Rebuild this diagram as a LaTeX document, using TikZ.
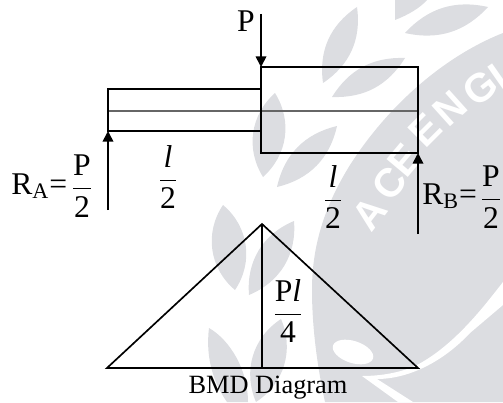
\documentclass[tikz,border=0pt]{standalone}
\usepackage{fontspec}
\setmainfont{Liberation Serif}
\setsansfont{Liberation Sans}
\usetikzlibrary{arrows.meta}
\definecolor{wmgrey}{RGB}{220,221,225}
\newcommand{\ratio}[2]{$\displaystyle\frac{#1}{#2}$}
\tikzset{
	beam/.style={line width=0.95pt,line join=miter},
	load/.style={line width=0.95pt,-{Triangle[width=6pt,length=6pt]}},
	axisline/.style={line width=0.6pt,black!60},
	label/.style={inner sep=0pt,font=\fontsize{18}{20}\selectfont},
	caption/.style={inner sep=0pt,font=\fontsize{15}{17}\selectfont},
	wmark/.style={inner sep=0pt,text=white,font=\fontsize{23}{24}\selectfont\sffamily\bfseries}
}
\begin{document}
\begin{tikzpicture}[x=0.02cm,y=-0.02cm]
	\useasboundingbox (0,0) rectangle (503,402);
	\begin{scope}
	\clip (0,0) rectangle (503,402);
	% leaves
	\foreach \ax/\ay/\bx/\by/\bd in {357/7/323/83/32, 405/58/332/97/30, 488/7/405/33/30, 275/93/263/177/40, 337/126/277/187/32, 223/205/235/290/42, 294/221/249/295/36, 281/319/256/402/40}
		\fill[wmgrey] (\ax,\ay) to[bend right=\bd] (\bx,\by) to[bend right=\bd] (\ax,\ay);
	\fill[wmgrey] (395,20) -- (395,0) -- (427,0) .. controls (420,8) and (408,15) .. (395,20);
	\fill[wmgrey] (209,328) .. controls (205,360) and (215,385) .. (227,402) -- (248,402) .. controls (248,370) and (230,340) .. (209,328);
	% big arc and the swoosh cut out of it
	\fill[wmgrey] (503,33) .. controls (440,58) and (385,110) .. (350,165) .. controls (322,210) and (312,250) .. (312,290) .. controls (312,330) and (318,370) .. (325,402) -- (503,402) -- cycle;
	\fill[white] (503,282) .. controls (485,305) and (455,345) .. (417,365) .. controls (400,373) and (380,376) .. (362,376) -- (398,402) -- (413,402) -- (377,379) .. controls (405,379) and (440,365) .. (470,333) -- (503,305) -- cycle;
	\fill[white,rotate around={-18:(353,352)}] (353,352) ellipse (21 and 11);
	% watermark letters
	\foreach \lx/\ly/\lt/\la in {370/213/A/52, 390/183/C/52, 405/160/E/50, 425/130/E/45, 450/108/N/42, 480/88/G/38, 498/77/I/35}
		\node[wmark,rotate=\la] (wm\lx) at (\lx,\ly) {\lt};
	\end{scope}
	% beam
	\coordinate (smallTL) at (108,89);
	\coordinate (smallBL) at (108,131);
	\coordinate (smallTR) at (261,89);
	\coordinate (smallBR) at (261,131);
	\coordinate (bigTL) at (261,67);
	\coordinate (bigTR) at (418,67);
	\coordinate (bigBR) at (418,153);
	\coordinate (bigBL) at (261,153);
	\coordinate (axisL) at (108,111);
	\coordinate (axisR) at (418,111);
	\draw[axisline] (axisL) -- (axisR);
	\draw[beam] (smallTR) -- (smallTL) -- (smallBL) -- (smallBR);
	\draw[beam] (bigTL) -- (bigTR) -- (bigBR) -- (bigBL) -- cycle;
	% loads
	\coordinate (Ptail) at (261,14);
	\coordinate (RAtail) at (108,210);
	\coordinate (RBtail) at (418,234);
	\draw[load] (Ptail) -- (bigTL);
	\draw[load] (RAtail) -- (smallBL);
	\draw[load] (RBtail) -- (bigBR);
	\node[label] (Plabel) at (246,21) {P};
	\node[label,anchor=base west] (RAlabel) at (11,194) {R\textsubscript{A}=};
	\node[label] (RAfrac) at (82,186) {\ratio{\mathrm{P}}{\mathrm{2}}};
	\node[label] (lleft) at (168,177) {\ratio{\mathit{l}}{\mathrm{2}}};
	\node[label] (lright) at (333,197) {\ratio{\mathit{l}}{\mathrm{2}}};
	\node[label,anchor=base west] (RBlabel) at (422,204) {R\textsubscript{B}=};
	\node[label] (RBfrac) at (491,197) {\ratio{\mathrm{P}}{\mathrm{2}}};
	% BMD
	\coordinate (bmdL) at (107,368);
	\coordinate (bmdR) at (418,368);
	\coordinate (bmdT) at (262,224);
	\coordinate (bmdM) at (262,368);
	\draw[beam] (bmdL) -- (bmdT) -- (bmdR) -- cycle;
	\draw[beam] (bmdT) -- (bmdM);
	\node[label] (PLfrac) at (288,311) {\ratio{\mathrm{P}\mathit{l}}{\mathrm{4}}};
	\node[caption] (bmdcap) at (268,388) {BMD Diagram};
\end{tikzpicture}
\end{document}
